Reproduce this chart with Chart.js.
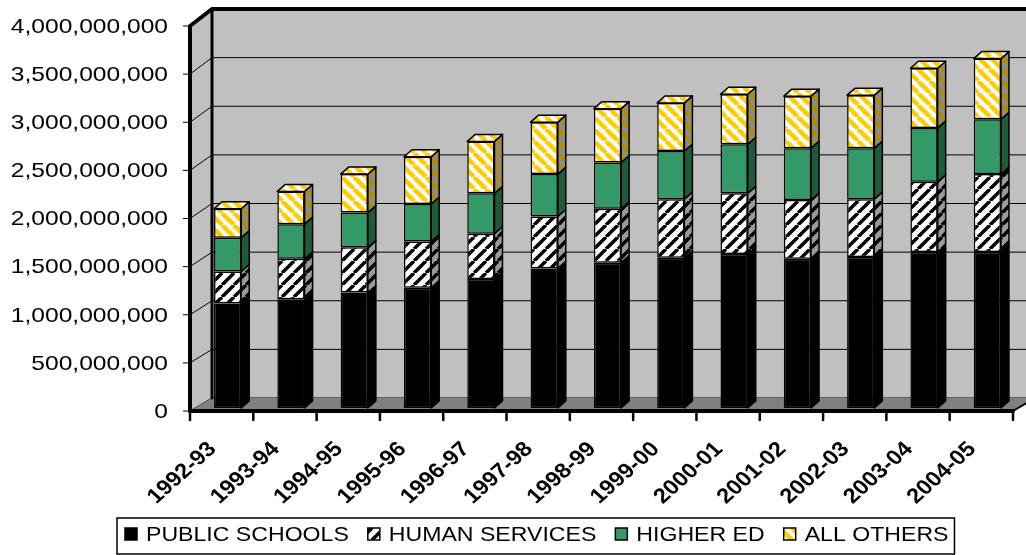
<!DOCTYPE html>
<html>
<head>
<meta charset="utf-8">
<script src="https://cdn.jsdelivr.net/npm/chart.js@4.4.1/dist/chart.umd.min.js"></script>
<style>
  html, body { margin: 0; padding: 0; background: #fff; }
  canvas { display: block; }
</style>
</head>
<body>
<canvas id="chartAnggaran" width="1026" height="555"></canvas>
<script>
// data
const labels = ["1992-93", "1993-94", "1994-95", "1995-96", "1996-97", "1997-98", "1998-99",
  "1999-00", "2000-01", "2001-02", "2002-03", "2003-04", "2004-05"];

const publicSchools = [1087000000, 1130000000, 1200000000, 1250000000, 1340000000, 1450000000, 1510000000,
  1560000000, 1600000000, 1550000000, 1570000000, 1620000000, 1620000000];
const humanServices = [331000000, 420000000, 470000000, 480000000, 470000000, 540000000, 560000000,
  610000000, 630000000, 610000000, 600000000, 730000000, 810000000];
const higherEd = [352000000, 360000000, 360000000, 390000000, 420000000, 440000000, 480000000,
  500000000, 510000000, 540000000, 530000000, 560000000, 570000000];
const allOthers = [300000000, 340000000, 400000000, 490000000, 540000000, 540000000, 560000000,
  500000000, 520000000, 540000000, 550000000, 620000000, 630000000];

const namaSeri = ["PUBLIC SCHOOLS", "HUMAN SERVICES", "HIGHER ED", "ALL OTHERS"];
const yMax = 4000000000;
const yStep = 500000000;

const canvas = document.getElementById("chartAnggaran");
const ctxUtama = canvas.getContext("2d");

// pola garis miring
function buatPola(bg, warnaGaris, arah, tebal) {
  const c = document.createElement("canvas");
  c.width = 12; c.height = 12;
  const g = c.getContext("2d");
  g.fillStyle = bg;
  g.fillRect(0, 0, 12, 12);
  g.strokeStyle = warnaGaris;
  g.lineWidth = tebal;
  g.beginPath();
  for (let k = -12; k <= 12; k += 12) {
    if (arah === "/") { g.moveTo(k, 12); g.lineTo(k + 12, 0); }
    else { g.moveTo(k, 0); g.lineTo(k + 12, 12); }
  }
  g.stroke();
  return ctxUtama.createPattern(c, "repeat");
}

const polaHS = buatPola("#ffffff", "#000000", "/", 3.5);
const polaHSsisi = buatPola("#9a9a9a", "#000000", "/", 3.5);
const polaAO = buatPola("#ffffff", "#ffcc00", "\\", 4.5);
const polaAOsisi = buatPola("#8c8c8c", "#b08c00", "\\", 4.5);

const warnaDepan = ["#000000", polaHS, "#339966", polaAO];
const warnaSisi = ["#000000", polaHSsisi, "#1d5b3b", polaAOsisi];

const GESER_X = 6, GESER_Y = -3;   // posisi batang di tengah kedalaman
const DALAM_X = 22;                // kedalaman dinding

function belakangY(v, a) {
  return v - 17 + (v - a.top) * 4 / (a.bottom - a.top);
}

const latar3D = {
  id: "latar3D",
  beforeDatasetsDraw(chart) {
    const { ctx, chartArea: a, scales: { x, y } } = chart;
    const bx = a.left + DALAM_X;
    ctx.save();

    // dinding samping & belakang
    ctx.fillStyle = "#c0c0c0";
    ctx.beginPath();
    ctx.moveTo(a.left, a.top);
    ctx.lineTo(bx, belakangY(a.top, a));
    ctx.lineTo(bx, belakangY(a.bottom, a));
    ctx.lineTo(a.left, a.bottom);
    ctx.closePath();
    ctx.fill();
    ctx.fillRect(bx, belakangY(a.top, a), chart.width, belakangY(a.bottom, a) - belakangY(a.top, a));

    // garis grid
    ctx.strokeStyle = "#000";
    ctx.lineWidth = 1;
    y.ticks.forEach(t => {
      const py = y.getPixelForValue(t.value);
      const pb = belakangY(py, a);
      ctx.beginPath();
      ctx.moveTo(a.left, py);
      ctx.lineTo(bx, pb);
      ctx.lineTo(chart.width, pb);
      ctx.stroke();
      ctx.beginPath();
      ctx.moveTo(a.left - 7, py);
      ctx.lineTo(a.left, py);
      ctx.stroke();
    });

    // lantai
    const lb = belakangY(a.bottom, a);
    ctx.fillStyle = "#808080";
    ctx.beginPath();
    ctx.moveTo(a.left, a.bottom);
    ctx.lineTo(bx, lb);
    ctx.lineTo(a.right + DALAM_X, lb);
    ctx.lineTo(a.right, a.bottom);
    ctx.closePath();
    ctx.fill();

    // garis tebal
    ctx.lineCap = "round";
    ctx.lineJoin = "round";
    ctx.lineWidth = 4;
    ctx.beginPath();
    ctx.moveTo(a.left, a.bottom);
    ctx.lineTo(a.left, a.top);
    ctx.lineTo(bx, belakangY(a.top, a));
    ctx.lineTo(chart.width + 5, belakangY(a.top, a));
    ctx.stroke();
    ctx.lineWidth = 3;
    ctx.beginPath();
    ctx.moveTo(bx, belakangY(a.top, a));
    ctx.lineTo(bx, lb);
    ctx.stroke();
    ctx.lineWidth = 4;
    ctx.beginPath();
    ctx.moveTo(a.left, a.bottom);
    ctx.lineTo(a.right, a.bottom);
    ctx.stroke();
    ctx.lineWidth = 2;
    ctx.beginPath();
    ctx.moveTo(a.right, a.bottom);
    ctx.lineTo(a.right + DALAM_X, lb);
    ctx.stroke();

    // tick sumbu x di batas kategori
    const lebarKat = x.width / labels.length;
    ctx.lineWidth = 2.5;
    for (let i = 0; i <= labels.length; i++) {
      const px = a.left + i * lebarKat;
      ctx.beginPath();
      ctx.moveTo(px, a.bottom);
      ctx.lineTo(px, a.bottom + 9);
      ctx.stroke();
    }
    ctx.restore();

    ctx.save();
    ctx.translate(GESER_X, GESER_Y);
  },
  afterDatasetsDraw(chart) {
    const { ctx } = chart;
    const ddx = 8, ddy = -7;
    const terakhir = chart.data.datasets.length - 1;
    ctx.strokeStyle = "#000";
    ctx.lineWidth = 1.5;
    ctx.lineJoin = "round";
    chart.data.datasets.forEach((ds, i) => {
      const meta = chart.getDatasetMeta(i);
      meta.data.forEach(bar => {
        const { x, y, base, width } = bar.getProps(["x", "y", "base", "width"], true);
        const kiri = x - width / 2, kanan = x + width / 2;
        const atas = Math.min(y, base), bawah = Math.max(y, base);
        ctx.fillStyle = warnaSisi[i];
        ctx.beginPath();
        ctx.moveTo(kanan, atas);
        ctx.lineTo(kanan + ddx, atas + ddy);
        ctx.lineTo(kanan + ddx, bawah + ddy);
        ctx.lineTo(kanan, bawah);
        ctx.closePath();
        ctx.fill();
        ctx.stroke();
        if (i === terakhir) {
          ctx.fillStyle = warnaDepan[i];
          ctx.beginPath();
          ctx.moveTo(kiri, atas);
          ctx.lineTo(kiri + ddx, atas + ddy);
          ctx.lineTo(kanan + ddx, atas + ddy);
          ctx.lineTo(kanan, atas);
          ctx.closePath();
          ctx.fill();
          ctx.stroke();
        }
      });
    });
    ctx.restore();
  },
  afterDraw(chart) {
    const { ctx, chartArea: a, scales: { x, y } } = chart;
    ctx.save();
    ctx.fillStyle = "#000";

    // label sumbu y
    ctx.font = "21px 'Liberation Sans', Arial, sans-serif";
    ctx.textAlign = "right";
    ctx.textBaseline = "middle";
    y.ticks.forEach(t => {
      const py = y.getPixelForValue(t.value);
      ctx.save();
      ctx.translate(168, py + 1);
      ctx.scale(1.17, 1);
      ctx.fillText(t.value.toLocaleString("en-US"), 0, 0);
      ctx.restore();
    });

    // label sumbu x (miring)
    ctx.font = "bold 21px 'Liberation Sans', Arial, sans-serif";
    labels.forEach((lab, i) => {
      const px = x.getPixelForValue(i);
      ctx.save();
      ctx.translate(px - 9, a.bottom + 35);
      ctx.scale(1.12, 1);
      ctx.rotate(-Math.PI / 4);
      ctx.fillText(lab, 0, 0);
      ctx.restore();
    });

    // legenda
    const sx = 1.1;
    ctx.font = "21px 'Liberation Sans', Arial, sans-serif";
    ctx.textAlign = "left";
    let px = 125;
    const kotakY = 528;
    namaSeri.forEach((nama, i) => {
      ctx.fillStyle = warnaDepan[i];
      ctx.fillRect(px, kotakY, 12, 12);
      ctx.strokeStyle = "#000";
      ctx.lineWidth = 1.5;
      ctx.strokeRect(px, kotakY, 12, 12);
      ctx.fillStyle = "#000";
      const w = ctx.measureText(nama).width * sx;
      ctx.save();
      ctx.translate(px + 21, kotakY + 7);
      ctx.scale(sx, 1);
      ctx.fillText(nama, 0, 0);
      ctx.restore();
      px += 21 + w + 19;
    });
    ctx.strokeStyle = "#000";
    ctx.lineWidth = 1.5;
    ctx.strokeRect(117, 518, px - 19 + 6 - 117, 36);
    ctx.restore();
  }
};

new Chart(canvas, {
  type: "bar",
  data: {
    labels: labels,
    datasets: [
      { label: namaSeri[0], data: publicSchools, backgroundColor: warnaDepan[0] },
      { label: namaSeri[1], data: humanServices, backgroundColor: warnaDepan[1] },
      { label: namaSeri[2], data: higherEd, backgroundColor: warnaDepan[2] },
      { label: namaSeri[3], data: allOthers, backgroundColor: warnaDepan[3] }
    ]
  },
  options: {
    responsive: false,
    animation: false,
    events: [],
    layout: { padding: { top: 26, right: 13, left: 0, bottom: 0 } },
    datasets: {
      bar: {
        borderColor: "#000",
        borderWidth: 1.5,
        borderSkipped: false,
        categoryPercentage: 1,
        barPercentage: 0.43
      }
    },
    plugins: {
      legend: { display: false },
      tooltip: { enabled: false }
    },
    scales: {
      x: {
        stacked: true,
        grid: { display: false },
        border: { display: false },
        ticks: { display: false },
        afterFit(s) { s.height = 144; }
      },
      y: {
        stacked: true,
        min: 0,
        max: yMax,
        ticks: { stepSize: yStep, display: false },
        grid: { display: false },
        border: { display: false },
        afterFit(s) { s.width = 190; }
      }
    }
  },
  plugins: [latar3D]
});
</script>
</body>
</html>
